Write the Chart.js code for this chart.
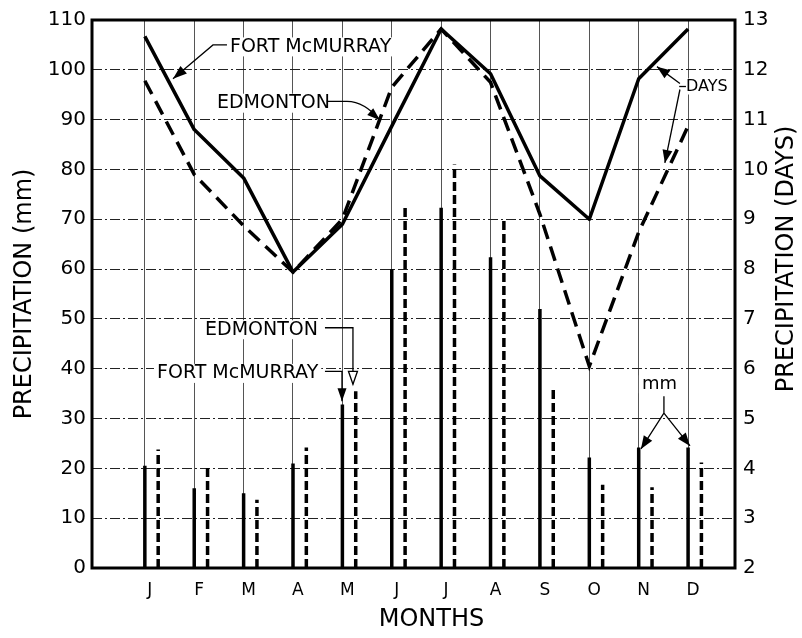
<!DOCTYPE html>
<html><head><meta charset="utf-8">
<script src="https://cdn.jsdelivr.net/npm/chart.js@4"></script>
<style>html,body{margin:0;padding:0;background:#fff;overflow:hidden}</style>
</head><body>
<canvas id="c" width="802" height="638"></canvas>
<script>
// ---- data ----
const months = ['J','F','M','A','M','J','J','A','S','O','N','D'];
const fortMm  = [20.5, 16, 15, 21, 32.8, 60, 72.3, 62.4, 52, 22.2, 24.2, 24.2];
const edmMm   = [23.8, 20.7, 13.7, 24.2, 35.5, 72.7, 81, 70.3, 36.5, 16.7, 16.2, 21.2];
const fortDays = [12.67, 10.8, 9.83, 7.94, 8.9, 10.87, 12.82, 11.92, 9.87, 9.0, 11.82, 12.82];
const edmDays  = [11.78, 9.9, 8.87, 7.94, 9.0, 11.65, 12.82, 11.75, 9.1, 6.05, 8.74, 10.87];
const mmTicks  = [0,10,20,30,40,50,60,70,80,90,100,110];
const dayTicks = [2,3,4,5,6,7,8,9,10,11,12,13];

const FONT = "'DejaVu Sans', sans-serif";
Chart.defaults.font.family = FONT;
Chart.defaults.color = '#000';

const EDM_OFFSET = 0.27;
function barSegments(vals, off){
  const pts = [];
  vals.forEach((v,i)=>{ pts.push({x:i+1+off,y:0}); pts.push({x:i+1+off,y:v}); pts.push({x:i+1+off,y:null}); });
  return pts;
}
const monthTicks = s => { s.ticks = months.map((m,i)=>({value:i+1})); };

const notes = [
  {text:'FORT McMURRAY', x:2.724, y:104.6, size:19},
  {text:'EDMONTON',      x:2.46,  y:93.3,  size:19},
  {text:'DAYS',          x:11.957,y:96.65, size:16},
  {text:'EDMONTON',      x:2.218, y:47.83, size:19},
  {text:'FORT McMURRAY', x:1.246, y:39.06, size:19},
  {text:'mm',            x:11.065,y:36.87, size:18}
];

function arrowHead(ctx, x1,y1,x2,y2, len, half, filled){
  const a = Math.atan2(y2-y1, x2-x1);
  ctx.beginPath();
  ctx.moveTo(x2,y2);
  ctx.lineTo(x2 - len*Math.cos(a) + half*Math.sin(a), y2 - len*Math.sin(a) - half*Math.cos(a));
  ctx.lineTo(x2 - len*Math.cos(a) - half*Math.sin(a), y2 - len*Math.sin(a) + half*Math.cos(a));
  ctx.closePath();
  if (filled){ ctx.fillStyle='#000'; ctx.fill(); }
  else { ctx.fillStyle='#fff'; ctx.fill(); ctx.lineWidth=1.3; ctx.stroke(); }
}

const notePlugin = {
  id:'notes',
  beforeDatasetsDraw(chart){
    const {ctx, scales:{x, y}} = chart;
    ctx.save();
    notes.forEach(n=>{
      ctx.font = n.size+'px '+FONT;
      const w = ctx.measureText(n.text).width;
      ctx.fillStyle='#fff';
      ctx.fillRect(x.getPixelForValue(n.x)-3, y.getPixelForValue(n.y)-n.size*0.5, w+6, n.size);
    });
    ctx.restore();
  },
  afterDatasetsDraw(chart){
    const {ctx, chartArea:ca, scales:{x, y}} = chart;
    const X = v=>x.getPixelForValue(v), Y = v=>y.getPixelForValue(v);
    ctx.save();
    // frame
    ctx.strokeStyle='#000'; ctx.lineWidth=3;
    ctx.strokeRect(ca.left, ca.top, ca.right-ca.left, ca.bottom-ca.top);
    // texts
    ctx.fillStyle='#000'; ctx.textBaseline='middle'; ctx.textAlign='left';
    notes.forEach(n=>{ ctx.font=n.size+'px '+FONT; ctx.fillText(n.text, X(n.x), Y(n.y)); });
    ctx.strokeStyle='#000'; ctx.lineWidth=1.3;
    // FORT McMURRAY (upper)
    ctx.beginPath(); ctx.moveTo(X(2.663),Y(105)); ctx.lineTo(X(2.38),Y(105)); ctx.lineTo(X(1.57),Y(98.2)); ctx.stroke();
    arrowHead(ctx, X(2.38),Y(105), X(1.57),Y(98.2), 14, 5, true);
    // EDMONTON (upper)
    ctx.beginPath(); ctx.moveTo(X(4.688),Y(93.66)); ctx.lineTo(X(5.093),Y(93.66));
    ctx.quadraticCurveTo(X(5.45),Y(93.6), X(5.761),Y(89.88)); ctx.stroke();
    arrowHead(ctx, X(5.45),Y(92.6), X(5.761),Y(89.88), 13, 4.5, true);
    // DAYS
    ctx.beginPath(); ctx.moveTo(X(11.82),Y(96.65)); ctx.lineTo(X(11.957),Y(96.65)); ctx.stroke();
    ctx.beginPath(); ctx.moveTo(X(11.835),Y(97.25)); ctx.lineTo(X(11.37),Y(100.64)); ctx.stroke();
    arrowHead(ctx, X(11.835),Y(97.25), X(11.37),Y(100.64), 13, 5, true);
    ctx.beginPath(); ctx.moveTo(X(11.835),Y(96.05)); ctx.lineTo(X(11.53),Y(81.3)); ctx.stroke();
    arrowHead(ctx, X(11.835),Y(96.05), X(11.53),Y(81.3), 13, 5, true);
    // EDMONTON (lower)
    ctx.beginPath(); ctx.moveTo(X(4.647),Y(48.23)); ctx.lineTo(X(5.214),Y(48.23)); ctx.lineTo(X(5.214),Y(36.87)); ctx.stroke();
    arrowHead(ctx, X(5.214),Y(45), X(5.214),Y(36.87), 13, 4.5, false);
    // FORT McMURRAY (lower)
    ctx.beginPath(); ctx.moveTo(X(4.647),Y(39.46)); ctx.lineTo(X(4.992),Y(39.46)); ctx.lineTo(X(4.992),Y(33.48)); ctx.stroke();
    arrowHead(ctx, X(4.992),Y(38), X(4.992),Y(33.48), 13, 4.5, true);
    // mm
    ctx.beginPath(); ctx.moveTo(X(11.511),Y(34.48)); ctx.lineTo(X(11.511),Y(31.09)); ctx.lineTo(X(11.046),Y(23.91));
    ctx.moveTo(X(11.511),Y(31.09)); ctx.lineTo(X(12.038),Y(24.51)); ctx.stroke();
    arrowHead(ctx, X(11.511),Y(31.09), X(11.046),Y(23.91), 13, 5, true);
    arrowHead(ctx, X(11.511),Y(31.09), X(12.038),Y(24.51), 13, 5, true);
    // axis titles
    ctx.fillStyle='#000'; ctx.textAlign='center'; ctx.textBaseline='middle';
    ctx.font='24px '+FONT;
    ctx.save(); ctx.translate(ca.left-67, (ca.top+ca.bottom)/2); ctx.rotate(-Math.PI/2);
    ctx.fillText('PRECIPITATION (mm)', 0, 0); ctx.restore();
    ctx.save(); ctx.translate(ca.right+52, (ca.top+ca.bottom)/2 - 35); ctx.rotate(-Math.PI/2);
    ctx.fillText('PRECIPITATION (DAYS)', 0, 0); ctx.restore();
    ctx.fillText('MONTHS', (ca.left+ca.right)/2 + 18, ca.bottom + 52);
    ctx.restore();
  }
};

new Chart(document.getElementById('c'), {
  type:'scatter',
  data:{ datasets:[
    {label:'Fort McMurray mm', data:barSegments(fortMm,0), xAxisID:'x', yAxisID:'y', showLine:true, spanGaps:false,
     borderColor:'#000', borderWidth:3.5, pointRadius:0, borderCapStyle:'butt'},
    {label:'Edmonton mm', data:barSegments(edmMm,EDM_OFFSET), xAxisID:'x', yAxisID:'y', showLine:true, spanGaps:false,
     borderColor:'#000', borderWidth:3.5, borderDash:[9,4], pointRadius:0, borderCapStyle:'butt'},
    {label:'Fort McMurray days', data:fortDays.map((v,i)=>({x:i+1,y:v})), xAxisID:'x', yAxisID:'y2', showLine:true,
     borderColor:'#000', borderWidth:3.5, pointRadius:0, borderJoinStyle:'round'},
    {label:'Edmonton days', data:edmDays.map((v,i)=>({x:i+1,y:v})), xAxisID:'x', yAxisID:'y2', showLine:true,
     borderColor:'#000', borderWidth:3.5, borderDash:[15,8], pointRadius:0}
  ]},
  options:{
    responsive:false, devicePixelRatio:1, animation:false,
    layout:{padding:{top:16,left:0,right:0,bottom:0}},
    plugins:{legend:{display:false}, tooltip:{enabled:false}},
    scales:{
      x:{type:'linear', position:'bottom', min:-0.07, max:12.95, afterBuildTicks:monthTicks,
         ticks:{display:false}, grid:{color:'#555', lineWidth:1, drawTicks:false}, border:{display:false},
         afterFit:s=>{s.height=0;}},
      xl:{type:'linear', position:'bottom', min:-0.17, max:12.85, afterBuildTicks:monthTicks,
         ticks:{callback:v=>months[v-1], font:{size:17}, padding:12, maxRotation:0, autoSkip:false},
         grid:{display:false, drawTicks:false}, border:{display:false},
         afterFit:s=>{s.height=70;}},
      y:{type:'linear', position:'left', min:0, max:110, afterBuildTicks:s=>{s.ticks=mmTicks.map(v=>({value:v}));},
         ticks:{font:{size:20}, padding:6},
         grid:{color:'#222', lineWidth:1, drawTicks:false}, border:{display:false, dash:[10,3,2,3]},
         afterFit:s=>{s.width=92;}},
      y2:{type:'linear', position:'right', min:2, max:13, afterBuildTicks:s=>{s.ticks=dayTicks.map(v=>({value:v}));},
         ticks:{font:{size:20}, padding:8},
         grid:{display:false, drawTicks:false}, border:{display:false},
         afterFit:s=>{s.width=67;}}
    }
  },
  plugins:[notePlugin]
});
</script>
</body></html>
